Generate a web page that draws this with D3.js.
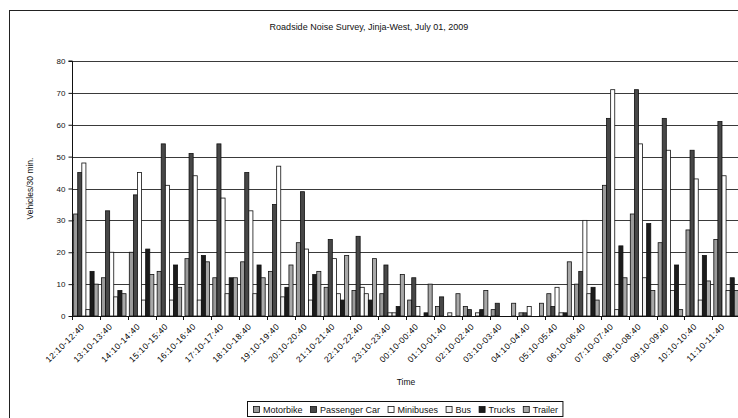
<!DOCTYPE html>
<html>
<head>
<meta charset="utf-8">
<script src="https://cdn.jsdelivr.net/npm/d3@7"></script>
<style>
  html, body { margin: 0; padding: 0; background: #fff; }
  svg { display: block; font-family: "Liberation Sans", Arial, sans-serif; }
</style>
</head>
<body>
<svg id="chart" width="738" height="418"></svg>
<script>
// Half-hour counting intervals
const categories = [
  "12:10-12:40", "13:10-13:40", "14:10-14:40", "15:10-15:40", "16:10-16:40", "17:10-17:40",
  "18:10-18:40", "19:10-19:40", "20:10-20:40", "21:10-21:40", "22:10-22:40", "23:10-23:40",
  "00:10-00:40", "01:10-01:40", "02:10-02:40", "03:10-03:40", "04:10-04:40", "05:10-05:40",
  "06:10-06:40", "07:10-07:40", "08:10-08:40", "09:10-09:40", "10:10-10:40", "11:10-11:40"
];

const seriesNames = ["Motorbike", "Passenger Car", "Minibuses", "Bus", "Trucks", "Trailer"];

// Vehicle counts per interval
const motorbike    = [32, 12, 20, 14, 18, 12, 17, 14, 23,  9,  8,  7,  5,  3,  3,  2,  1,  7, 10, 41, 32, 23, 27, 24];
const passengerCar = [45, 33, 38, 54, 51, 54, 45, 35, 39, 24, 25, 16, 12,  6,  2,  4,  1,  3, 14, 62, 71, 62, 52, 61];
const minibuses    = [48, 20, 45, 41, 44, 37, 33, 47, 21, 18,  9,  1,  3,  0,  0,  0,  3,  9, 30, 71, 54, 52, 43, 44];
const bus          = [ 2,  6,  5,  5,  5,  7,  7,  6,  5,  7,  7,  1,  0,  1,  1,  0,  0,  1,  7,  2, 12,  8,  5,  8];
const trucks       = [14,  8, 21, 16, 19, 12, 16,  9, 13,  5,  5,  3,  1,  0,  2,  0,  0,  1,  9, 22, 29, 16, 19, 12];
const trailer      = [10,  7, 13,  9, 17, 12, 12, 16, 14, 19, 18, 13, 10,  7,  8,  4,  4, 17,  5, 12,  8,  2, 11,  8];

const yTicks = [0, 10, 20, 30, 40, 50, 60, 70, 80];

const seriesValues = [motorbike, passengerCar, minibuses, bus, trucks, trailer];
const fills = ["#9b9b9b", "#474747", "#ffffff", "#f0f0f0", "#1c1c1c", "#a8a8a8"];

const svg = d3.select("#chart");

// Outer chart frame
svg.append("rect")
  .attr("x", 9.5).attr("y", 10.5)
  .attr("width", 760).attr("height", 420)
  .attr("fill", "none").attr("stroke", "#222").attr("stroke-width", 1);

const plot = { left: 72, right: 740, top: 61, bottom: 316 };

const x = d3.scaleBand().domain(categories).range([plot.left, plot.right]).paddingInner(0).paddingOuter(0);
const xs = d3.scaleBand().domain(seriesNames).range([0, x.bandwidth()]).paddingInner(0).paddingOuter(0.4);
const y = d3.scaleLinear().domain([0, 80]).range([plot.bottom, plot.top]);

// Title
svg.append("text")
  .attr("x", 369).attr("y", 30)
  .attr("text-anchor", "middle")
  .attr("font-size", 9)
  .attr("fill", "#111")
  .text("Roadside Noise Survey, Jinja-West, July 01, 2009");

// Horizontal gridlines
svg.append("g")
  .selectAll("line")
  .data(yTicks.filter(d => d > 0))
  .join("line")
  .attr("x1", plot.left).attr("x2", plot.right)
  .attr("y1", d => Math.round(y(d)) + 0.5).attr("y2", d => Math.round(y(d)) + 0.5)
  .attr("stroke", "#3a3a3a").attr("stroke-width", 1);

// Bars
const groups = svg.append("g")
  .selectAll("g")
  .data(seriesNames.map((name, i) => ({ name, values: seriesValues[i], fill: fills[i] })))
  .join("g")
  .attr("fill", d => d.fill);

groups.selectAll("rect")
  .data(d => d.values.map((v, j) => ({ name: d.name, cat: categories[j], v })))
  .join("rect")
  .filter(d => d.v > 0)
  .attr("x", d => x(d.cat) + xs(d.name))
  .attr("y", d => y(d.v))
  .attr("width", xs.bandwidth())
  .attr("height", d => y(0) - y(d.v))
  .attr("stroke", "#111")
  .attr("stroke-width", 0.8);

// Y axis
const yAxis = d3.axisLeft(y).tickValues(yTicks).tickSize(4).tickPadding(3);
const yg = svg.append("g")
  .attr("transform", `translate(${plot.left + 0.5},0)`)
  .call(yAxis);
yg.select(".domain").attr("stroke", "#111").attr("d", `M-4,${plot.top}H0V${plot.bottom}`);
yg.selectAll(".tick line").attr("stroke", "#111");
yg.selectAll(".tick text").attr("font-size", 8).attr("fill", "#111").attr("font-family", "Liberation Sans, Arial, sans-serif");

// X axis baseline and category boundary ticks
const xg = svg.append("g");
xg.append("line")
  .attr("x1", plot.left).attr("x2", plot.right)
  .attr("y1", plot.bottom + 0.5).attr("y2", plot.bottom + 0.5)
  .attr("stroke", "#111");
xg.selectAll("line.tk")
  .data(categories)
  .join("line")
  .attr("class", "tk")
  .attr("x1", d => Math.round(x(d)) + 0.5).attr("x2", d => Math.round(x(d)) + 0.5)
  .attr("y1", plot.bottom).attr("y2", plot.bottom + 4)
  .attr("stroke", "#111");

// Rotated category labels
xg.selectAll("text")
  .data(categories)
  .join("text")
  .attr("transform", d => `translate(${x(d) + x.bandwidth() / 2 - 3},${plot.bottom + 9}) rotate(-45)`)
  .attr("text-anchor", "end")
  .attr("dy", "0.35em")
  .attr("font-size", 8.5)
  .attr("letter-spacing", 0.5)
  .attr("fill", "#000")
  .text(d => d);

// Axis titles
svg.append("text")
  .attr("x", (plot.left + plot.right) / 2).attr("y", 385)
  .attr("text-anchor", "middle")
  .attr("font-size", 8.5)
  .attr("fill", "#111")
  .text("Time");

svg.append("text")
  .attr("transform", `translate(33,${(plot.top + plot.bottom) / 2}) rotate(-90)`)
  .attr("text-anchor", "middle")
  .attr("font-size", 8.5)
  .attr("fill", "#111")
  .text("Vehicles/30 min.");

// Legend
const legend = svg.append("g").attr("transform", "translate(247,401)");
const legendBox = legend.append("rect")
  .attr("x", 0.5).attr("y", 0.5)
  .attr("height", 15)
  .attr("fill", "#fff").attr("stroke", "#111");
let lx = 6;
seriesNames.forEach((name, i) => {
  legend.append("rect")
    .attr("x", lx + 0.5).attr("y", 5.5)
    .attr("width", 6).attr("height", 6)
    .attr("fill", fills[i]).attr("stroke", "#111").attr("stroke-width", 0.8);
  const t = legend.append("text")
    .attr("x", lx + 10).attr("y", 11.5)
    .attr("font-size", 9)
    .attr("fill", "#111")
    .text(name);
  lx += 10 + t.node().getComputedTextLength() + 7.5;
});
legendBox.attr("width", lx - 3);
</script>
</body>
</html>
